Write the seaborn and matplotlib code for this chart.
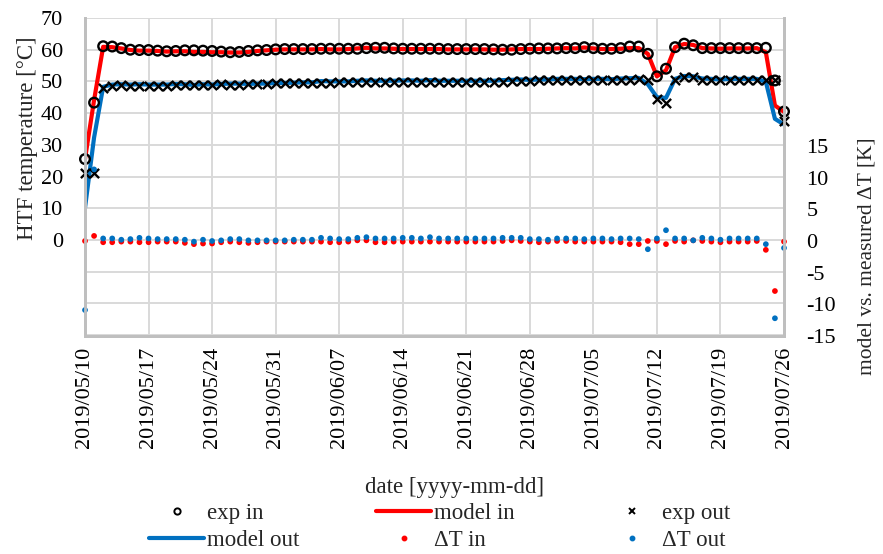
import matplotlib
matplotlib.use("Agg")
import matplotlib.pyplot as plt
from matplotlib.lines import Line2D
import pandas as pd
import seaborn as sns

# Daily HTF temperatures, 2019-05-10 .. 2019-07-26
start_date = "2019-05-10"

exp_in = [
    25.5, 43.3, 61.1, 61.0, 60.5, 60.0, 59.9, 59.9, 59.7, 59.5,
    59.6, 59.8, 59.8, 59.7, 59.6, 59.4, 59.2, 59.3, 59.6, 59.8,
    59.9, 60.1, 60.2, 60.2, 60.2, 60.2, 60.3, 60.3, 60.3, 60.3,
    60.3, 60.5, 60.6, 60.6, 60.4, 60.3, 60.3, 60.3, 60.3, 60.3,
    60.2, 60.2, 60.2, 60.2, 60.2, 60.1, 60.0, 60.0, 60.2, 60.3,
    60.4, 60.4, 60.4, 60.5, 60.5, 60.8, 60.5, 60.3, 60.3, 60.5,
    61.0, 61.0, 58.7, 51.6, 54.0, 60.8, 61.9, 61.4, 60.5, 60.5,
    60.5, 60.5, 60.5, 60.5, 60.5, 60.6, 50.3, 40.5,
]
model_in = [
    25.5, 44.1, 60.9, 60.8, 60.4, 59.9, 59.7, 59.7, 59.6, 59.4,
    59.5, 59.5, 59.3, 59.3, 59.2, 59.2, 59.1, 59.1, 59.3, 59.6,
    59.8, 60.0, 60.1, 60.1, 60.1, 60.1, 60.2, 60.1, 60.1, 60.2,
    60.4, 60.6, 60.4, 60.4, 60.3, 60.2, 60.2, 60.2, 60.2, 60.2,
    60.1, 60.1, 60.1, 60.1, 60.1, 60.0, 60.0, 60.1, 60.2, 60.2,
    60.2, 60.3, 60.4, 60.5, 60.4, 60.7, 60.4, 60.2, 60.2, 60.3,
    60.5, 60.5, 58.7, 51.6, 53.5, 60.8, 61.8, 61.5, 60.5, 60.4,
    60.3, 60.4, 60.4, 60.4, 60.5, 59.2, 42.4, 40.4,
]
exp_out = [
    21.0, 21.0, 47.9, 48.6, 48.9, 48.7, 48.6, 48.6, 48.7, 48.7,
    48.9, 48.9, 49.0, 48.9, 49.0, 49.1, 49.0, 49.0, 49.1, 49.2,
    49.2, 49.4, 49.4, 49.4, 49.5, 49.5, 49.6, 49.6, 49.7, 49.7,
    49.7, 49.7, 49.8, 49.8, 49.8, 49.8, 49.8, 49.8, 49.8, 49.8,
    49.8, 49.8, 49.8, 49.8, 49.8, 49.8, 49.9, 50.0, 50.1, 50.2,
    50.3, 50.4, 50.4, 50.4, 50.4, 50.4, 50.4, 50.4, 50.4, 50.5,
    50.6, 50.8, 50.4, 44.6, 43.1, 50.4, 51.3, 51.5, 50.4, 50.4,
    50.4, 50.4, 50.4, 50.4, 50.4, 50.4, 50.4, 37.5,
]
model_out = [
    10.1, 32.3, 48.3, 49.0, 49.1, 49.0, 49.1, 49.0, 49.0, 49.0,
    49.2, 49.1, 48.9, 49.1, 49.0, 49.2, 49.3, 49.3, 49.2, 49.3,
    49.3, 49.5, 49.5, 49.6, 49.7, 49.7, 50.1, 50.0, 50.0, 50.0,
    50.2, 50.3, 50.2, 50.2, 50.2, 50.3, 50.3, 50.2, 50.4, 50.2,
    50.2, 50.2, 50.2, 50.2, 50.2, 50.2, 50.4, 50.5, 50.6, 50.5,
    50.6, 50.6, 50.8, 50.8, 50.8, 50.7, 50.8, 50.8, 50.7, 50.9,
    51.0, 51.1, 49.1, 45.0, 44.8, 50.8, 51.7, 51.6, 50.9, 50.8,
    50.6, 50.8, 50.8, 50.8, 50.8, 49.9, 38.2, 36.4,
]
dT_in = [
    0.0, 0.8, -0.2, -0.2, -0.1, -0.1, -0.2, -0.2, -0.1, -0.1,
    -0.1, -0.3, -0.5, -0.4, -0.4, -0.2, -0.1, -0.2, -0.3, -0.2,
    -0.1, -0.1, -0.1, -0.1, -0.1, -0.1, -0.1, -0.2, -0.2, -0.1,
    0.1, 0.1, -0.2, -0.2, -0.1, -0.1, -0.1, -0.1, -0.1, -0.1,
    -0.1, -0.1, -0.1, -0.1, -0.1, -0.1, 0.0, 0.1, 0.0, -0.1,
    -0.2, -0.1, 0.0, 0.0, -0.1, -0.1, -0.1, -0.1, -0.1, -0.2,
    -0.5, -0.5, 0.0, 0.0, -0.5, 0.0, -0.1, 0.1, 0.0, -0.1,
    -0.2, -0.1, -0.1, -0.1, 0.0, -1.4, -7.9, -0.1,
]
dT_out = [
    -10.9, 11.3, 0.4, 0.4, 0.2, 0.3, 0.5, 0.4, 0.3, 0.3,
    0.3, 0.2, -0.1, 0.2, 0.0, 0.1, 0.3, 0.3, 0.1, 0.1,
    0.1, 0.1, 0.1, 0.2, 0.2, 0.2, 0.5, 0.4, 0.3, 0.3,
    0.5, 0.6, 0.4, 0.4, 0.4, 0.5, 0.5, 0.4, 0.6, 0.4,
    0.4, 0.4, 0.4, 0.4, 0.4, 0.4, 0.5, 0.5, 0.5, 0.3,
    0.3, 0.2, 0.4, 0.4, 0.4, 0.3, 0.4, 0.4, 0.3, 0.4,
    0.4, 0.3, -1.3, 0.4, 1.7, 0.4, 0.4, 0.1, 0.5, 0.4,
    0.2, 0.4, 0.4, 0.4, 0.4, -0.5, -12.2, -1.1,
]

tick_dates = pd.date_range("2019-05-10", "2019-07-26", freq="7D")
left_ticks = list(range(-30, 71, 10))
right_ticks = list(range(-15, 16, 5))

RED = "#ff0000"
BLUE = "#0070c0"
GRID = "#d9d9d9"
SPINE = "#bfbfbf"

dates = pd.date_range(start_date, periods=len(exp_in), freq="D")
df = pd.DataFrame({
    "date": dates,
    "exp_in": exp_in, "model_in": model_in,
    "exp_out": exp_out, "model_out": model_out,
    "dT_in": dT_in, "dT_out": dT_out,
})

sns.set_theme(style="white")
plt.rcParams["font.family"] = ["Liberation Serif", "DejaVu Serif"]
FS_TICK = 16
FS_TEXT = 16.5

W, H = 883, 554
fig = plt.figure(figsize=(W / 100, H / 100), dpi=100)
ax = fig.add_axes([85 / W, 1 - 336 / H, (784 - 85) / W, (336 - 18) / H])
ax2 = ax.twinx()

# temperatures (left axis)
sns.lineplot(data=df, x="date", y="model_in", ax=ax, color=RED, lw=3, zorder=2)
sns.lineplot(data=df, x="date", y="model_out", ax=ax, color=BLUE, lw=3, zorder=2)
sns.scatterplot(data=df, x="date", y="exp_in", ax=ax, marker="o", s=48,
                facecolors="none", edgecolor="black", linewidth=1.7,
                zorder=4, clip_on=False)
sns.scatterplot(data=df, x="date", y="exp_out", ax=ax, marker="x", s=44,
                color="black", linewidth=1.7, zorder=4, clip_on=False)

# model vs. measured differences (right axis)
sns.scatterplot(data=df, x="date", y="dT_in", ax=ax2, marker="o", s=17,
                color=RED, edgecolor="none", clip_on=False)
sns.scatterplot(data=df, x="date", y="dT_out", ax=ax2, marker="o", s=17,
                color=BLUE, edgecolor="none", clip_on=False)

ax.set_xlim(dates[0], dates[-1])
ax.set_ylim(-30.3, 70)
ax2.set_ylim(-15, 35.2)

ax.set_xticks(tick_dates)
ax.set_xticklabels([d.strftime("%Y/%m/%d") for d in tick_dates], rotation=90)
ax.set_yticks(left_ticks)
ax.set_yticklabels([str(v) if v >= 0 else "" for v in left_ticks])
ax2.set_yticks(right_ticks)
ax2.set_yticklabels([str(v) for v in right_ticks])

ax.set_xlabel("")
ax.set_ylabel("")
ax2.set_ylabel("")

ax.grid(True, color=GRID, lw=1.4)
ax.set_axisbelow(True)
ax2.grid(False)

ax.tick_params(axis="x", length=0, pad=8, labelsize=FS_TICK, colors="black")
ax.tick_params(axis="y", length=0, pad=16, labelsize=FS_TICK, colors="black")
ax2.tick_params(axis="y", length=0, pad=16, labelsize=FS_TICK, colors="black")

for a in (ax, ax2):
    a.spines["top"].set_visible(False)
    for side in ("left", "bottom", "right"):
        a.spines[side].set_color(SPINE)
        a.spines[side].set_linewidth(2)

fig.text(28 / W, 1 - 138 / H, "HTF temperature [°C]", rotation=90,
         ha="center", va="center", fontsize=FS_TEXT)
fig.text(867 / W, 1 - 256 / H, "model vs. measured ΔT [K]", rotation=90,
         ha="center", va="center", fontsize=15.5)
fig.text(455 / W, 1 - 487 / H, "date [yyyy-mm-dd]",
         ha="center", va="center", fontsize=FS_TEXT)

# legend: three columns of two entries
h_exp_in = Line2D([], [], ls="none", marker="o", ms=4.5, mfc="none",
                  mec="black", mew=1.4)
h_model_in = Line2D([], [], color=RED, lw=3)
h_exp_out = Line2D([], [], ls="none", marker="x", ms=4.5, color="black", mew=1.4)
h_model_out = Line2D([], [], color=BLUE, lw=3)
h_dT_in = Line2D([], [], ls="none", marker="o", ms=3.2, color=RED)
h_dT_out = Line2D([], [], ls="none", marker="o", ms=3.2, color=BLUE)

columns = [
    (149, [h_exp_in, h_model_out], ["exp in", "model out"]),
    (376, [h_model_in, h_dT_in], ["model in", "ΔT in"]),
    (604, [h_exp_out, h_dT_out], ["exp out", "ΔT out"]),
]
for x0, handles, labels in columns:
    fig.legend(handles, labels, loc="center left",
               bbox_to_anchor=(x0 / W, 1 - 527 / H),
               frameon=False, fontsize=FS_TEXT, handlelength=2.4,
               handletextpad=0.15, labelspacing=0.3,
               borderpad=0, borderaxespad=0)

fig.savefig("out.png", dpi=100)
